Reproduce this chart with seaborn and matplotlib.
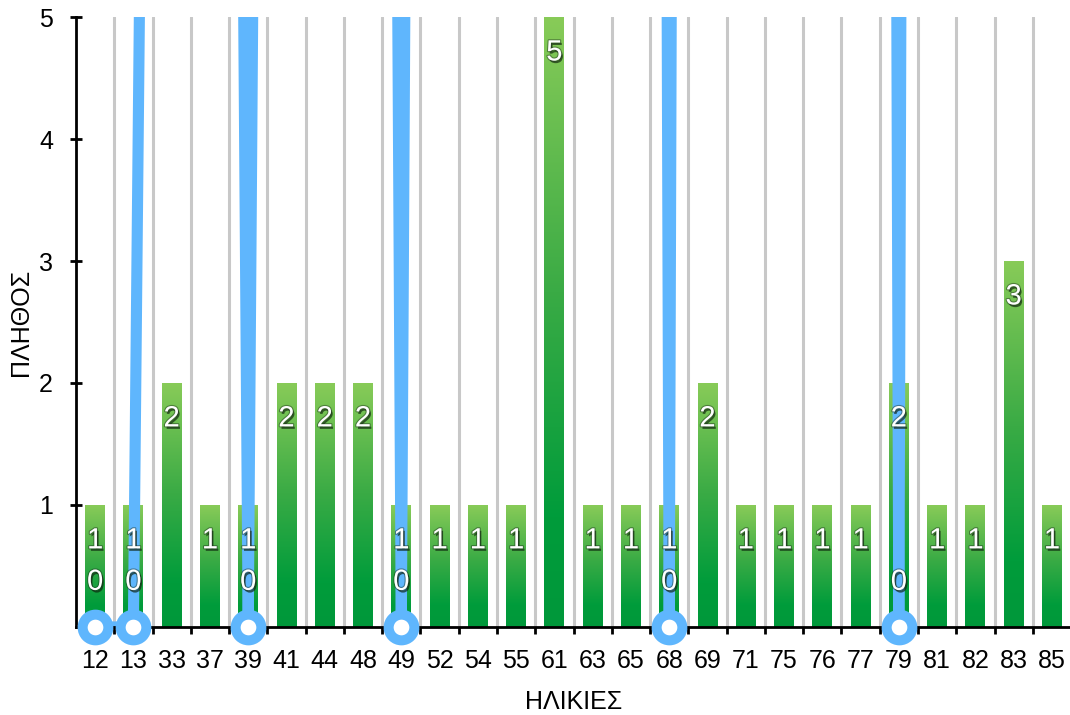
import numpy as np
import pandas as pd
import matplotlib
matplotlib.use("Agg")
import matplotlib.pyplot as plt
import matplotlib.patheffects as pe
from matplotlib.colors import LinearSegmentedColormap
import seaborn as sns

# Age groups (categories), number of people per age, and the companion line series
ages = ["12", "13", "33", "37", "39", "41", "44", "48", "49", "52", "54", "55", "61",
        "63", "65", "68", "69", "71", "75", "76", "77", "79", "81", "82", "83", "85"]
counts = [1, 1, 2, 1, 1, 2, 2, 2, 1, 1, 1, 1, 5, 1, 1, 1, 2, 1, 1, 1, 1, 2, 1, 1, 3, 1]
trend = [0, 0, 32, 43, 0, 43, 50, 55, 0, 55, 70, 80, 90, 96, 96, 0, 96, 96, 96, 96, 96,
         0, 96, 96, 96, 96]

y_ticks = [1, 2, 3, 4, 5]
x_title = "ΗΛΙΚΙΕΣ"
y_title = "ΠΛΗΘΟΣ"

BLUE = "#5fb6fd"
GRID = "#c8c8c8"

sns.set_theme(style="white")
plt.rcParams["font.family"] = ["Liberation Sans", "DejaVu Sans"]

df = pd.DataFrame({"age": ages, "count": counts, "trend": trend})

fig = plt.figure(figsize=(10.7, 7.15), dpi=100)
ax = fig.add_axes([0.071, 0.1231, 0.930, 0.8531])

# separators between categories
for b in np.arange(0.5, len(ages) + 0.5):
    ax.axvline(b, color=GRID, lw=2.2, zorder=1)

sns.barplot(data=df, x="age", y="count", order=ages, color="#3fae47",
            width=0.52, ax=ax, zorder=2)

# vertical green gradient inside each bar
cmap = LinearSegmentedColormap.from_list(
    "bar_green", [(0.0, "#00983a"), (0.18, "#009c3b"), (0.55, "#3aab45"), (1.0, "#88cb58")])
grad = np.linspace(0, 1, 256).reshape(-1, 1)
for patch in list(ax.patches):
    x0, y0 = patch.get_x(), patch.get_y()
    w, h = patch.get_width(), patch.get_height()
    im = ax.imshow(grad, extent=[x0, x0 + w, y0, y0 + h], origin="lower",
                   cmap=cmap, aspect="auto", zorder=2.1, interpolation="bilinear")
    im.set_clip_path(patch)
    patch.set_facecolor("none")
    patch.set_edgecolor("none")

xpos = np.arange(len(ages))
ax.plot(xpos, trend, color=BLUE, lw=8, solid_joinstyle="round", zorder=3)
ax.plot(xpos, trend, ls="none", marker="o", ms=18.5, mew=7.2, mfc="white",
        mec=BLUE, clip_on=False, zorder=5)

ax.set_xlim(-0.5, len(ages) - 0.5)
ax.set_ylim(0, 5)

shadow = [pe.SimplePatchShadow(offset=(1.2, -1.8), shadow_rgbFace="#0b1f0b", alpha=0.65),
          pe.Stroke(linewidth=1.6, foreground="#1c2e1c", alpha=0.45),
          pe.Normal()]

for i, c in enumerate(counts):
    ax.text(i, c - 0.29, str(c), ha="center", va="center", color="white",
            fontsize=21, zorder=6, path_effects=shadow)
for i, v in enumerate(trend):
    if v <= 5:
        ax.text(i, v + 0.37, str(v), ha="center", va="center", color="white",
                fontsize=21, zorder=6, path_effects=shadow)

ax.set_yticks(y_ticks)
ax.set_yticklabels([str(t) for t in y_ticks])
ax.set_xticks(xpos)
ax.set_xticklabels(ages)
ax.set_xticks(np.arange(0.5, len(ages) - 0.5), minor=True)

ax.tick_params(axis="y", which="major", direction="inout", length=9, width=2,
               color="black", labelsize=18, labelcolor="black", pad=12, left=True)
ax.tick_params(axis="x", which="major", length=0, labelsize=18, labelcolor="black", pad=16)
ax.tick_params(axis="x", which="minor", direction="inout", length=10, width=2,
               color="black", bottom=True)

for side in ("top", "right"):
    ax.spines[side].set_visible(False)
for side in ("left", "bottom"):
    ax.spines[side].set_color("black")
    ax.spines[side].set_linewidth(2)
    ax.spines[side].set_zorder(4)

ax.set_xlabel(x_title, fontsize=18, color="black", labelpad=12)
ax.set_ylabel(y_title, fontsize=18, color="black", labelpad=4)

fig.savefig("out.png", dpi=100)
